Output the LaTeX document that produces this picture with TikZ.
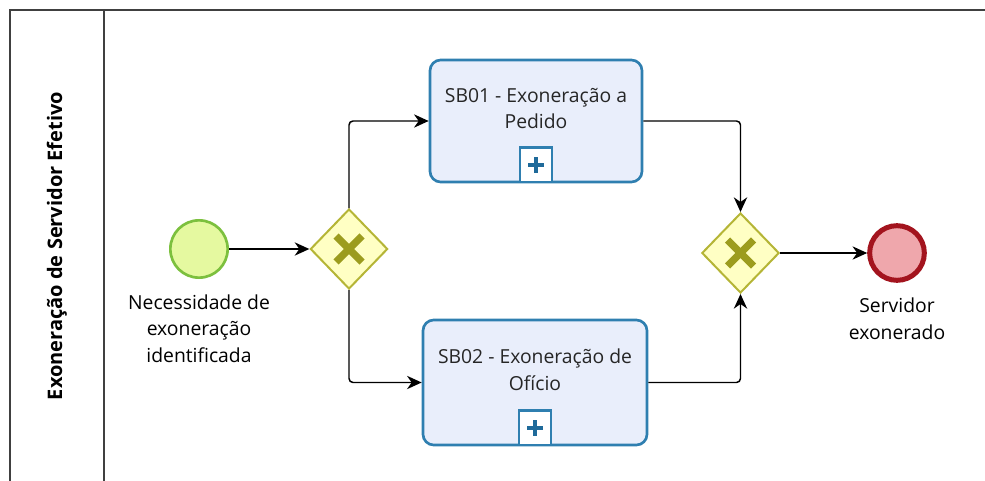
\documentclass[tikz,border=0pt]{standalone}
\usepackage{fontspec}
\setmainfont{Open Sans}
\usetikzlibrary{shapes.geometric,arrows.meta,positioning}
\definecolor{laneline}{rgb}{0.25,0.25,0.25}
\definecolor{taskfill}{HTML}{E9EEFB}
\definecolor{taskline}{HTML}{2F7FB0}
\definecolor{plusblue}{HTML}{1F6A9A}
\definecolor{gwfill}{HTML}{FFFFC4}
\definecolor{gwline}{HTML}{B5B536}
\definecolor{gwmark}{HTML}{9C9C1E}
\definecolor{startfill}{HTML}{E5F9A0}
\definecolor{startline}{HTML}{7CC03E}
\definecolor{endfill}{HTML}{EFA7AC}
\definecolor{endline}{HTML}{A3141E}

\begin{document}
\begin{tikzpicture}[x=0.75pt,y=-0.75pt,
  flow/.style={draw=black,line width=1.1pt,rounded corners=3pt,-{Stealth[length=11pt,width=10pt,inset=3.5pt]}},
  task/.style={draw=taskline,fill=taskfill,line width=2pt,rounded corners=8pt,inner sep=0pt},
  tasktext/.style={font=\fontsize{14.5}{20}\selectfont,align=center,text=black!85},
  gateway/.style={diamond,draw=gwline,fill=gwfill,line width=1.5pt,minimum width=58pt,minimum height=60pt,inner sep=0pt},
  xmark/.style={gwmark,line width=5.5pt},
  startev/.style={circle,draw=startline,fill=startfill,line width=2pt,minimum size=43pt,inner sep=0pt},
  endev/.style={circle,draw=endline,fill=endfill,line width=3.75pt,minimum size=41pt,inner sep=0pt},
  evlabel/.style={font=\fontsize{14.5}{20}\selectfont,align=center},
  submark/.style={draw=taskline,fill=white,line width=1.8pt,minimum width=24pt,minimum height=26pt,inner sep=0pt,anchor=south}
]
\useasboundingbox (0,0) rectangle (985,481);

% pool and lane
\draw[laneline,line width=1.5pt] (985,10) -- (10,10) -- (10,481);
\draw[laneline,line width=1.5pt] (104,10) -- (104,481);
\node[rotate=90,font=\bfseries\fontsize{15}{18}\selectfont] (lanename) at (57,246) {Exoneração de Servidor Efetivo};

% events and gateways
\node[startev] (start) at (199,249) {};
\node[evlabel,below=8pt of start] (startlabel) {Necessidade de\\exoneração\\identificada};
\node[gateway] (gw1) at (349,249) {};
\draw[xmark] ([shift={(-13,-13)}]gw1.center) -- ([shift={(13,13)}]gw1.center);
\draw[xmark] ([shift={(-13,13)}]gw1.center) -- ([shift={(13,-13)}]gw1.center);

\node[gateway] (gw2) at (740.5,253) {};
\draw[xmark] ([shift={(-13,-13)}]gw2.center) -- ([shift={(13,13)}]gw2.center);
\draw[xmark] ([shift={(-13,13)}]gw2.center) -- ([shift={(13,-13)}]gw2.center);

\node[endev] (end) at (897,253) {};
\node[evlabel,below=8pt of end] (endlabel) {Servidor\\exonerado};

% sub-processes
\node[task,minimum width=159pt,minimum height=91.5pt] (t1) at (536,121) {};
\node[tasktext] (t1text) at ([yshift=9.4pt]t1.center) {SB01 - Exoneração a\\Pedido};
\node[submark] (t1mark) at (t1.south) {};
\draw[plusblue,line width=3pt] ([xshift=-6pt]t1mark.center) -- ([xshift=6pt]t1mark.center);
\draw[plusblue,line width=3pt] ([yshift=-6pt]t1mark.center) -- ([yshift=6pt]t1mark.center);

\node[task,minimum width=168pt,minimum height=93.75pt] (t2) at (535,382.5) {};
\node[tasktext] (t2text) at ([yshift=9.75pt]t2.center) {SB02 - Exoneração de\\Ofício};
\node[submark] (t2mark) at (t2.south) {};
\draw[plusblue,line width=3pt] ([xshift=-6pt]t2mark.center) -- ([xshift=6pt]t2mark.center);
\draw[plusblue,line width=3pt] ([yshift=-6pt]t2mark.center) -- ([yshift=6pt]t2mark.center);

% sequence flows
\draw[flow] (start) -- (gw1);
\draw[flow] (gw1.north) |- (t1.west);
\draw[flow] (gw1.south) |- (t2.west);
\draw[flow] (t1.east) -| (gw2.north);
\draw[flow] (t2.east) -| (gw2.south);
\draw[flow] (gw2) -- (end);
\end{tikzpicture}
\end{document}
